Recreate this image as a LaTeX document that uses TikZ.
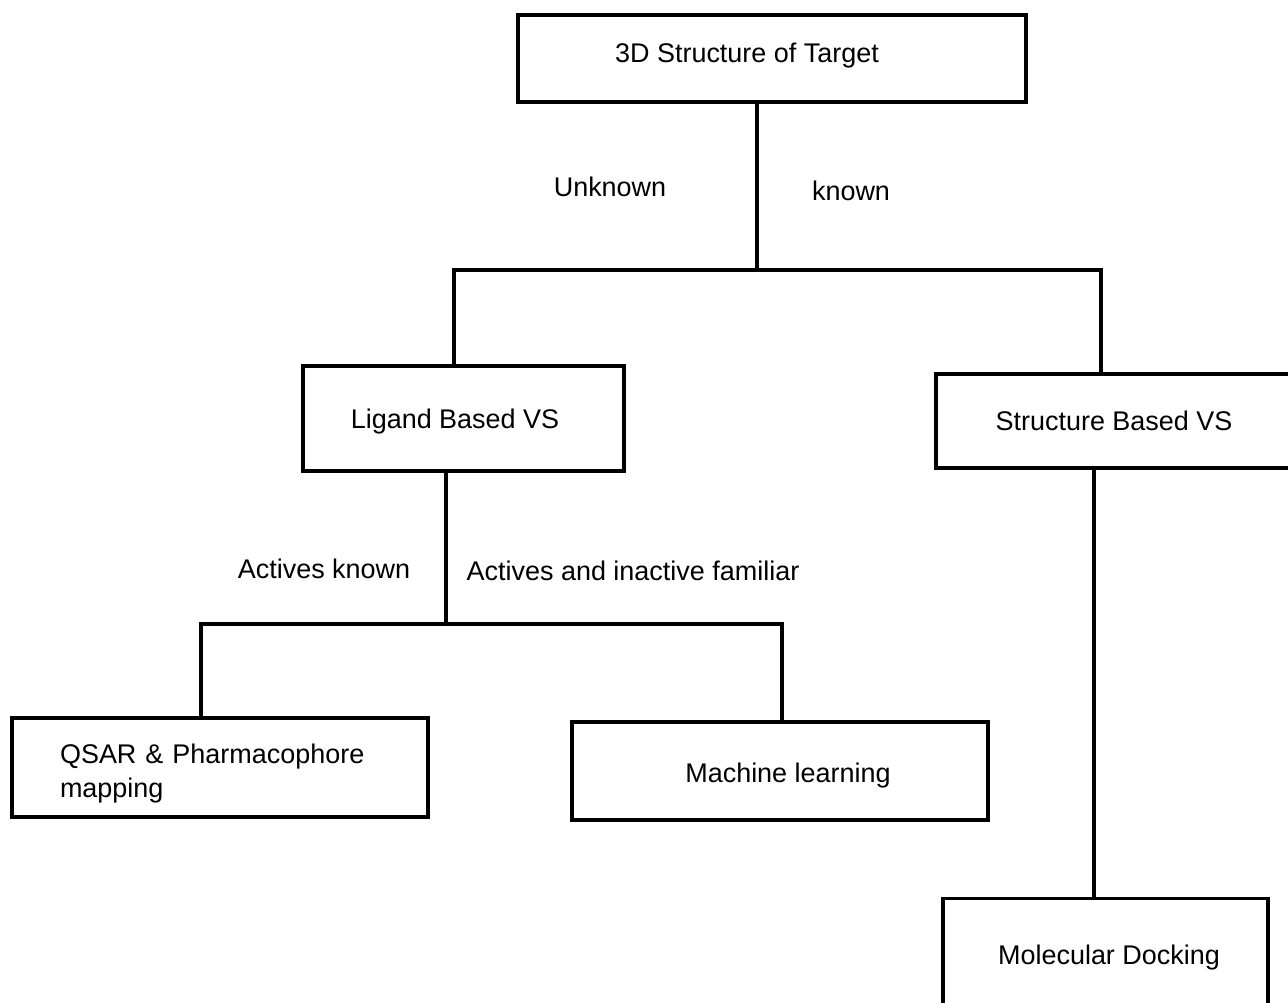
\documentclass[tikz,border=0pt]{standalone}
\usepackage{fontspec}
\setmainfont{Liberation Sans}
\begin{document}
\begin{tikzpicture}[x=0.02cm,y=-0.02cm,line width=2pt,
    box/.style={draw,inner sep=0pt},
    lbl/.style={font=\fontsize{15.35}{19.8}\selectfont}]
    \clip (0,0) rectangle (1288,1003);
    \node[box,minimum width=10.16cm,minimum height=1.74cm,
        label={[lbl,xshift=-0.5cm,yshift=0.06cm]center:3D Structure of Target}] (target) at (772,58.5) {};
    \node[box,minimum width=6.42cm,minimum height=2.1cm,
        label={[lbl,xshift=-0.17cm,yshift=-0.06cm]center:Ligand Based VS}] (ligand) at (463.5,418.5) {};
    \node[box,minimum width=7.6cm,minimum height=1.88cm,
        label={[lbl,xshift=-0.24cm]center:Structure Based VS}] (structure) at (1126,421) {};
    \node[box,minimum width=8.32cm,minimum height=1.98cm,
        label={[lbl,text width=6.4cm,align=left,yshift=-0.12cm]center:QSAR \& Pharmacophore\\mapping}] (qsar) at (220,767.5) {};
    \node[box,minimum width=8.32cm,minimum height=1.96cm,
        label={[lbl,xshift=0.16cm,yshift=-0.09cm]center:Machine learning}] (ml) at (780,771) {};
    \node[box,minimum width=6.5cm,minimum height=2.3cm,
        label={[lbl,xshift=0.07cm,yshift=-0.03cm]center:Molecular Docking}] (docking) at (1105.5,956) {};
    \coordinate (j1) at (757,270);
    \coordinate (j1l) at (454,270);
    \coordinate (j1r) at (1101,270);
    \coordinate (j2) at (446,624);
    \coordinate (j2l) at (201,624);
    \coordinate (j2r) at (782,624);
    \draw (j1 |- target.south) -- (j1);
    \draw (j1l |- ligand.north) -- (j1l) -- (j1r) -- (j1r |- structure.north);
    \draw (j2 |- ligand.south) -- (j2);
    \draw (j2l |- qsar.north) -- (j2l) -- (j2r) -- (j2r |- ml.north);
    \draw (1094,468) -- (1094,899);
    \node[lbl] (unknown) at (610,187) {Unknown};
    \node[lbl] (known) at (851,191) {known};
    \node[lbl] (actk) at (324,569) {Actives known};
    \node[lbl,anchor=west] (actf) at (459,571) {Actives and inactive familiar};
\end{tikzpicture}
\end{document}
